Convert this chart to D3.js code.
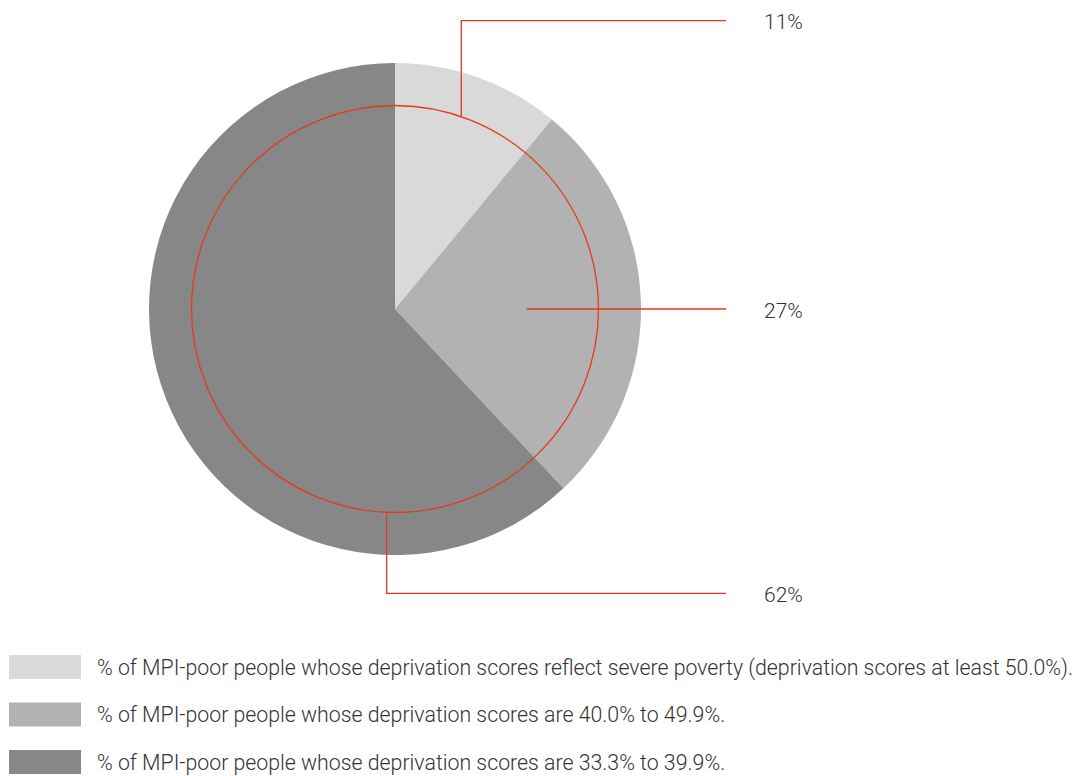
<!DOCTYPE html>
<html>
<head>
<meta charset="utf-8">
<script src="https://cdn.jsdelivr.net/npm/d3@7"></script>
<style>
  html, body { margin: 0; padding: 0; background: #fff; }
  svg { display: block; font-family: Roboto, "Noto Sans", sans-serif; }
</style>
</head>
<body>
<svg id="chart" width="1076" height="776"></svg>
<script>
// Share of MPI-poor people by intensity of deprivation
const categories = [
  "% of MPI-poor people whose deprivation scores reflect severe poverty (deprivation scores at least 50.0%).",
  "% of MPI-poor people whose deprivation scores are 40.0% to 49.9%.",
  "% of MPI-poor people whose deprivation scores are 33.3% to 39.9%."
];
const values = [11, 27, 62];
const valueLabels = ["11%", "27%", "62%"];
const colors = ["#d9d9d9", "#b2b2b2", "#878787"];

// Leader-line anchors: angle (fraction of a turn, clockwise from top), radius relative to the ring
const leaderAnchors = [
  { turn: 0.0528, rel: 1.0 },
  { turn: 0.25,   rel: 0.647 },
  { turn: 0.5065, rel: 1.0 }
];
// Elbow heights for the leader lines
const leaderRows = [20.7, 309, 593.3];

const svg = d3.select("#chart");
const cx = 395, cy = 309, R = 246, ringR = 203.5;
const red = "#e5391f";

const pie = d3.pie().sort(null).value(d => d)(values);
const arc = d3.arc().innerRadius(0).outerRadius(R);

const g = svg.append("g").attr("transform", `translate(${cx},${cy})`);
g.selectAll("path.slice")
  .data(pie)
  .join("path")
  .attr("class", "slice")
  .attr("d", arc)
  .attr("fill", (d, i) => colors[i]);

g.append("circle")
  .attr("r", ringR)
  .attr("fill", "none")
  .attr("stroke", red)
  .attr("stroke-width", 1.3);

// Leader lines and value labels
const lineEnd = 726, labelX = 764;
leaderAnchors.forEach((a, i) => {
  const ang = a.turn * 2 * Math.PI;
  const r = ringR * a.rel;
  const x0 = cx + r * Math.sin(ang);
  const y0 = cy - r * Math.cos(ang);
  const yRow = leaderRows[i];
  svg.append("path")
    .attr("d", `M${x0},${y0} L${x0},${yRow} L${lineEnd},${yRow}`)
    .attr("fill", "none")
    .attr("stroke", red)
    .attr("stroke-width", 1.3);
  svg.append("text")
    .attr("x", labelX)
    .attr("y", yRow + 8.5)
    .attr("font-size", 21)
    .attr("font-weight", 300)
    .attr("fill", "#333")
    .text(valueLabels[i]);
});

// Legend
const legendTop = 655, legendStep = 47.5;
const legend = svg.append("g");
categories.forEach((c, i) => {
  const y = legendTop + i * legendStep;
  legend.append("rect")
    .attr("x", 9).attr("y", y)
    .attr("width", 72).attr("height", 24)
    .attr("fill", colors[i]);
  legend.append("text")
    .attr("x", 97)
    .attr("y", y + 19.5)
    .attr("font-size", 21.3)
    .attr("font-weight", 300)
    .attr("fill", "#333")
    .text(c);
});
</script>
</body>
</html>
